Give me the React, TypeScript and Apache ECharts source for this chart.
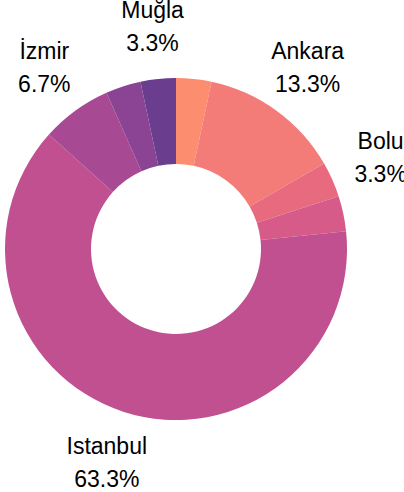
import React, { useEffect, useRef } from "react";
import * as echarts from "echarts";

const categories = ["", "Ankara", "Bolu", "", "Istanbul", "İzmir", "", "Muğla"];
const counts = [1, 4, 1, 1, 19, 2, 1, 1];
const showLabel = [false, true, true, false, true, true, false, true];
const colors = ["#fd8d6f", "#f37c79", "#e86a7f", "#d75b88", "#c0508f", "#a84a93", "#8a4493", "#6a3d8f"];

export default function App() {
  const ref = useRef<HTMLDivElement>(null);
  useEffect(() => {
    document.body.style.margin = "0";
    const chart = echarts.init(ref.current!, null, { renderer: "svg" });
    const total = counts.reduce((a, b) => a + b, 0);
    const pieData = counts.map((v, i) => ({
      name: categories[i] || "s" + i,
      value: v,
      itemStyle: { color: colors[i] },
    }));
    const labelData = counts.map((v, i) => ({
      name: categories[i] || "s" + i,
      value: v,
      label: { show: showLabel[i] },
    }));
    chart.setOption({
      animation: false,
      series: [
        {
          type: "pie",
          center: [176, 249],
          radius: [85, 171],
          startAngle: 90,
          clockwise: true,
          avoidLabelOverlap: false,
          label: { show: false },
          labelLine: { show: false },
          silent: true,
          data: pieData,
        },
        {
          type: "pie",
          center: [176, 249],
          radius: [220, 222],
          startAngle: 90,
          clockwise: true,
          avoidLabelOverlap: false,
          silent: true,
          itemStyle: { color: "rgba(0,0,0,0)" },
          labelLine: { show: false },
          label: {
            position: "inside",
            color: "#000",
            fontFamily: "Liberation Sans, Arial, sans-serif",
            fontSize: 23,
            lineHeight: 33,
            align: "center",
            formatter: (p: any) => `${p.name}\n${((p.value / total) * 100).toFixed(1)}%`,
          },
          data: labelData,
        },
      ],
    });
    return () => chart.dispose();
  }, []);
  return <div ref={ref} style={{ width: 404, height: 492 }} />;
}
